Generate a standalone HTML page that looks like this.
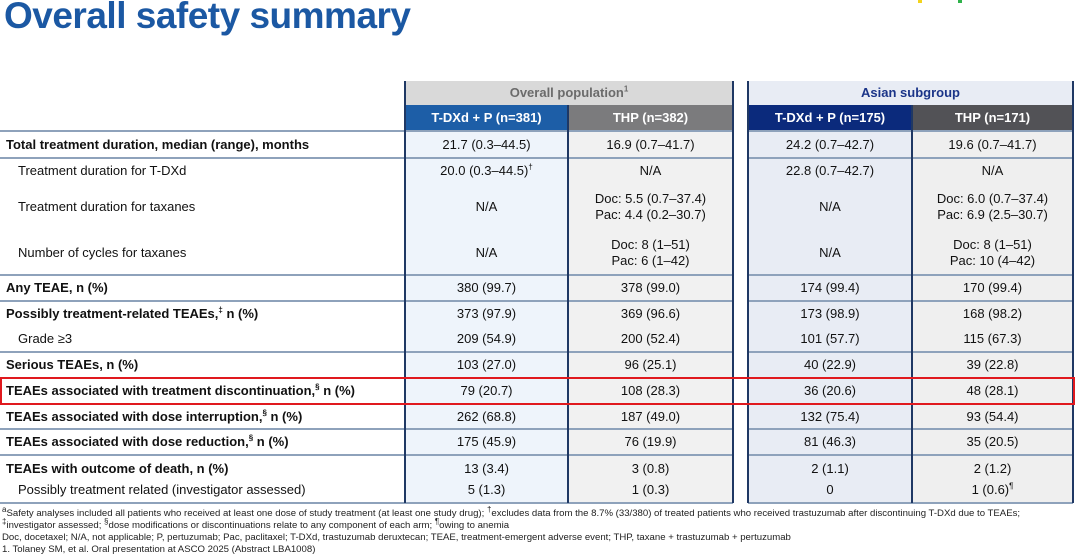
<!DOCTYPE html>
<html><head><meta charset="utf-8"><style>
*{margin:0;padding:0;box-sizing:border-box}
body{width:1080px;height:556px;background:#fff;position:relative;overflow:hidden;font-family:"Liberation Sans",Arial,sans-serif;color:#111}
.a{position:absolute}
.c{position:absolute;display:flex;flex-direction:column;align-items:center;justify-content:center;font-size:13px;line-height:16px;text-align:center}
.l{position:absolute;font-size:13px;line-height:16px;display:flex;align-items:center;white-space:nowrap}
.b{font-weight:bold}
.h{position:absolute;height:2px;background:#8ea2bb}
.v{position:absolute;width:2px;background:#1f3864;top:81px;height:422px}
sup{font-size:8px;line-height:0;vertical-align:super}
.fn{position:absolute;left:2px;font-size:9.6px;line-height:11px;letter-spacing:0px;color:#222;white-space:nowrap}
</style></head><body>
<div class="a b" style="left:4px;top:-5px;font-size:37px;color:#1b58a3;letter-spacing:-0.5px">Overall safety summary</div>
<div class="a" style="left:918px;top:0;width:4px;height:3px;background:#f3d31c"></div>
<div class="a" style="left:958px;top:0;width:4px;height:3px;background:#2fb24a"></div>

<div class="a" style="left:405px;top:131px;width:163px;height:372px;background:#eef4fb"></div>
<div class="a" style="left:568px;top:131px;width:165px;height:372px;background:#f1f1f1"></div>
<div class="a" style="left:748px;top:131px;width:164px;height:372px;background:#e8ecf4"></div>
<div class="a" style="left:912px;top:131px;width:161px;height:372px;background:#efefef"></div>

<div class="c b" style="left:405px;top:81px;width:328px;height:24px;background:#d9d9d9;color:#6b6b6b"><span>Overall population<sup>1</sup></span></div>
<div class="c b" style="left:748px;top:81px;width:325px;height:24px;background:#e8ecf4;color:#1a3488">Asian subgroup</div>
<div class="c b" style="left:405px;top:105px;width:163px;height:26px;background:#1d5ea7;color:#fff">T-DXd + P (n=381)</div>
<div class="c b" style="left:568px;top:105px;width:165px;height:26px;background:#7b7b7d;color:#fff">THP (n=382)</div>
<div class="c b" style="left:748px;top:105px;width:164px;height:26px;background:#0b2a7c;color:#fff">T-DXd + P (n=175)</div>
<div class="c b" style="left:912px;top:105px;width:161px;height:26px;background:#525256;color:#fff">THP (n=171)</div>

<div class="h" style="left:0;width:733px;top:130px"></div><div class="h" style="left:748px;width:325px;top:130px"></div>
<div class="h" style="left:0;width:733px;top:157px"></div><div class="h" style="left:748px;width:325px;top:157px"></div>
<div class="h" style="left:0;width:733px;top:274px"></div><div class="h" style="left:748px;width:325px;top:274px"></div>
<div class="h" style="left:0;width:733px;top:300px"></div><div class="h" style="left:748px;width:325px;top:300px"></div>
<div class="h" style="left:0;width:733px;top:351px"></div><div class="h" style="left:748px;width:325px;top:351px"></div>
<div class="h" style="left:0;width:733px;top:377px"></div><div class="h" style="left:748px;width:325px;top:377px"></div>
<div class="h" style="left:0;width:733px;top:403px"></div><div class="h" style="left:748px;width:325px;top:403px"></div>
<div class="h" style="left:0;width:733px;top:428px"></div><div class="h" style="left:748px;width:325px;top:428px"></div>
<div class="h" style="left:0;width:733px;top:454px"></div><div class="h" style="left:748px;width:325px;top:454px"></div>
<div class="h" style="left:0;width:733px;top:502px"></div><div class="h" style="left:748px;width:325px;top:502px"></div>

<div class="v" style="left:404px"></div><div class="v" style="left:567px;top:105px;height:398px"></div><div class="v" style="left:732px"></div>
<div class="v" style="left:747px"></div><div class="v" style="left:911px;top:105px;height:398px"></div><div class="v" style="left:1072px"></div>

<div class="l b" style="left:6px;top:131px;height:27px">Total treatment duration, median (range), months</div>
<div class="l" style="left:18px;top:158px;height:26px">Treatment duration for T-DXd</div>
<div class="l" style="left:18px;top:184px;height:46px">Treatment duration for taxanes</div>
<div class="l" style="left:18px;top:230px;height:45px">Number of cycles for taxanes</div>
<div class="l b" style="left:6px;top:275px;height:26px">Any TEAE, n (%)</div>
<div class="l b" style="left:6px;top:301px;height:25px"><span>Possibly treatment-related TEAEs,<sup>‡</sup> n (%)</span></div>
<div class="l" style="left:18px;top:326px;height:26px">Grade ≥3</div>
<div class="l b" style="left:6px;top:352px;height:26px">Serious TEAEs, n (%)</div>
<div class="l b" style="left:6px;top:378px;height:26px"><span>TEAEs associated with treatment discontinuation,<sup>§</sup> n (%)</span></div>
<div class="l b" style="left:6px;top:404px;height:25px"><span>TEAEs associated with dose interruption,<sup>§</sup> n (%)</span></div>
<div class="l b" style="left:6px;top:429px;height:26px"><span>TEAEs associated with dose reduction,<sup>§</sup> n (%)</span></div>
<div class="l b" style="left:6px;top:459px;height:20px">TEAEs with outcome of death, n (%)</div>
<div class="l" style="left:18px;top:480px;height:20px">Possibly treatment related (investigator assessed)</div>

<div class="c" style="left:405px;width:163px;top:131px;height:27px">21.7 (0.3–44.5)</div>
<div class="c" style="left:405px;width:163px;top:158px;height:26px"><span>20.0 (0.3–44.5)<sup>†</sup></span></div>
<div class="c" style="left:405px;width:163px;top:184px;height:46px">N/A</div>
<div class="c" style="left:405px;width:163px;top:230px;height:45px">N/A</div>
<div class="c" style="left:405px;width:163px;top:275px;height:26px">380 (99.7)</div>
<div class="c" style="left:405px;width:163px;top:301px;height:25px">373 (97.9)</div>
<div class="c" style="left:405px;width:163px;top:326px;height:26px">209 (54.9)</div>
<div class="c" style="left:405px;width:163px;top:352px;height:26px">103 (27.0)</div>
<div class="c" style="left:405px;width:163px;top:378px;height:26px">79 (20.7)</div>
<div class="c" style="left:405px;width:163px;top:404px;height:25px">262 (68.8)</div>
<div class="c" style="left:405px;width:163px;top:429px;height:26px">175 (45.9)</div>
<div class="c" style="left:405px;width:163px;top:459px;height:20px">13 (3.4)</div>
<div class="c" style="left:405px;width:163px;top:480px;height:20px">5 (1.3)</div>

<div class="c" style="left:568px;width:165px;top:131px;height:27px">16.9 (0.7–41.7)</div>
<div class="c" style="left:568px;width:165px;top:158px;height:26px">N/A</div>
<div class="c" style="left:568px;width:165px;top:184px;height:46px"><div>Doc: 5.5 (0.7–37.4)</div><div>Pac: 4.4 (0.2–30.7)</div></div>
<div class="c" style="left:568px;width:165px;top:230px;height:45px"><div>Doc: 8 (1–51)</div><div>Pac: 6 (1–42)</div></div>
<div class="c" style="left:568px;width:165px;top:275px;height:26px">378 (99.0)</div>
<div class="c" style="left:568px;width:165px;top:301px;height:25px">369 (96.6)</div>
<div class="c" style="left:568px;width:165px;top:326px;height:26px">200 (52.4)</div>
<div class="c" style="left:568px;width:165px;top:352px;height:26px">96 (25.1)</div>
<div class="c" style="left:568px;width:165px;top:378px;height:26px">108 (28.3)</div>
<div class="c" style="left:568px;width:165px;top:404px;height:25px">187 (49.0)</div>
<div class="c" style="left:568px;width:165px;top:429px;height:26px">76 (19.9)</div>
<div class="c" style="left:568px;width:165px;top:459px;height:20px">3 (0.8)</div>
<div class="c" style="left:568px;width:165px;top:480px;height:20px">1 (0.3)</div>

<div class="c" style="left:748px;width:164px;top:131px;height:27px">24.2 (0.7–42.7)</div>
<div class="c" style="left:748px;width:164px;top:158px;height:26px">22.8 (0.7–42.7)</div>
<div class="c" style="left:748px;width:164px;top:184px;height:46px">N/A</div>
<div class="c" style="left:748px;width:164px;top:230px;height:45px">N/A</div>
<div class="c" style="left:748px;width:164px;top:275px;height:26px">174 (99.4)</div>
<div class="c" style="left:748px;width:164px;top:301px;height:25px">173 (98.9)</div>
<div class="c" style="left:748px;width:164px;top:326px;height:26px">101 (57.7)</div>
<div class="c" style="left:748px;width:164px;top:352px;height:26px">40 (22.9)</div>
<div class="c" style="left:748px;width:164px;top:378px;height:26px">36 (20.6)</div>
<div class="c" style="left:748px;width:164px;top:404px;height:25px">132 (75.4)</div>
<div class="c" style="left:748px;width:164px;top:429px;height:26px">81 (46.3)</div>
<div class="c" style="left:748px;width:164px;top:459px;height:20px">2 (1.1)</div>
<div class="c" style="left:748px;width:164px;top:480px;height:20px">0</div>

<div class="c" style="left:912px;width:161px;top:131px;height:27px">19.6 (0.7–41.7)</div>
<div class="c" style="left:912px;width:161px;top:158px;height:26px">N/A</div>
<div class="c" style="left:912px;width:161px;top:184px;height:46px"><div>Doc: 6.0 (0.7–37.4)</div><div>Pac: 6.9 (2.5–30.7)</div></div>
<div class="c" style="left:912px;width:161px;top:230px;height:45px"><div>Doc: 8 (1–51)</div><div>Pac: 10 (4–42)</div></div>
<div class="c" style="left:912px;width:161px;top:275px;height:26px">170 (99.4)</div>
<div class="c" style="left:912px;width:161px;top:301px;height:25px">168 (98.2)</div>
<div class="c" style="left:912px;width:161px;top:326px;height:26px">115 (67.3)</div>
<div class="c" style="left:912px;width:161px;top:352px;height:26px">39 (22.8)</div>
<div class="c" style="left:912px;width:161px;top:378px;height:26px">48 (28.1)</div>
<div class="c" style="left:912px;width:161px;top:404px;height:25px">93 (54.4)</div>
<div class="c" style="left:912px;width:161px;top:429px;height:26px">35 (20.5)</div>
<div class="c" style="left:912px;width:161px;top:459px;height:20px">2 (1.2)</div>
<div class="c" style="left:912px;width:161px;top:480px;height:20px"><span>1 (0.6)<sup>¶</sup></span></div>

<div class="a" style="left:0;top:377px;width:1075px;height:28px;border:2px solid #e0191e"></div>

<div class="fn" style="top:508px"><sup>a</sup>Safety analyses included all patients who received at least one dose of study treatment (at least one study drug); <sup>†</sup>excludes data from the 8.7% (33/380) of treated patients who received trastuzumab after discontinuing T-DXd due to TEAEs;</div>
<div class="fn" style="top:520px"><sup>‡</sup>investigator assessed; <sup>§</sup>dose modifications or discontinuations relate to any component of each arm; <sup>¶</sup>owing to anemia</div>
<div class="fn" style="top:532px">Doc, docetaxel; N/A, not applicable; P, pertuzumab; Pac, paclitaxel; T-DXd, trastuzumab deruxtecan; TEAE, treatment-emergent adverse event; THP, taxane + trastuzumab + pertuzumab</div>
<div class="fn" style="top:544px">1. Tolaney SM, et al. Oral presentation at ASCO 2025 (Abstract LBA1008)</div>
</body></html>
